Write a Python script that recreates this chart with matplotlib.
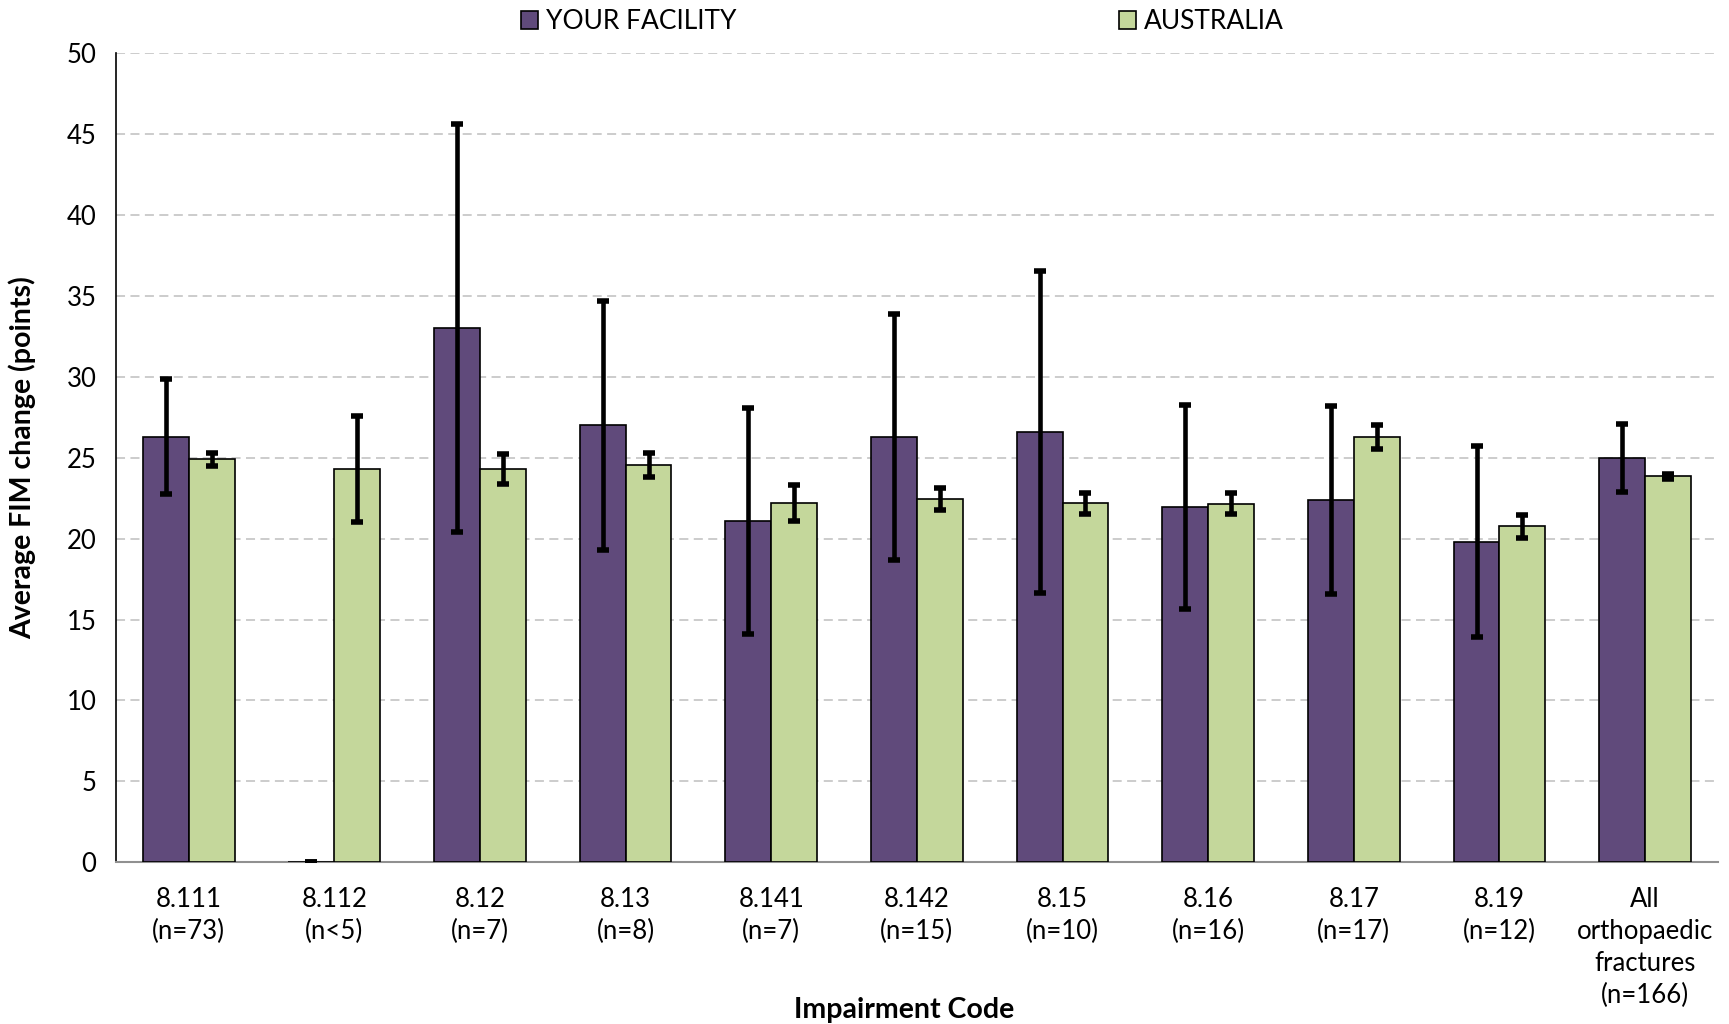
import matplotlib
matplotlib.use("Agg")
import matplotlib.pyplot as plt
import numpy as np

plt.rcParams['font.family'] = ['Lato', 'DejaVu Sans']

codes = ['8.111\n(n=73)', '8.112\n(n<5)', '8.12\n(n=7)', '8.13\n(n=8)', '8.141\n(n=7)',
         '8.142\n(n=15)', '8.15\n(n=10)', '8.16\n(n=16)', '8.17\n(n=17)', '8.19\n(n=12)',
         'All\northopaedic\nfractures\n(n=166)']
facility = [26.3, 0, 33.0, 27.0, 21.1, 26.3, 26.6, 21.95, 22.4, 19.8, 25.0]
facility_err = [3.55, 0, 12.6, 7.7, 7.0, 7.6, 9.95, 6.3, 5.8, 5.9, 2.1]
australia = [24.9, 24.3, 24.3, 24.55, 22.2, 22.45, 22.2, 22.15, 26.3, 20.75, 23.85]
australia_err = [0.4, 3.3, 0.95, 0.77, 1.1, 0.65, 0.65, 0.65, 0.75, 0.74, 0.15]

purple = '#604A7B'
green = '#C4D79B'

fig = plt.figure(figsize=(17.29, 10.24), dpi=100)
ax = fig.add_axes([0.067, 0.158, 0.9266, 0.79])

pos = np.arange(len(codes))
width = 0.315
err_kw = dict(ecolor='black', elinewidth=3.3, capsize=4.3, capthick=4.0)
ax.bar(pos - width/2, facility, width, color=purple, edgecolor='black', linewidth=1.2,
       yerr=facility_err, error_kw=err_kw, label='YOUR FACILITY', zorder=3)
ax.bar(pos + width/2, australia, width, color=green, edgecolor='black', linewidth=1.2,
       yerr=australia_err, error_kw=err_kw, label='AUSTRALIA', zorder=3)

ax.set_xlim(-0.5, len(codes) - 0.5)
ax.set_ylim(0, 50)
ax.set_yticks(range(0, 51, 5))
ax.set_xticks(pos)
ax.set_xticklabels(codes, fontsize=18.5, linespacing=1.35)
ax.tick_params(axis='y', labelsize=18.5, length=0, pad=14)
ax.tick_params(axis='x', length=0, pad=18)

ax.yaxis.grid(True, color='#C8C8C8', linestyle=(0, (5, 3)), linewidth=1.3, zorder=0)
ax.set_axisbelow(True)
for s in ['top', 'right']:
    ax.spines[s].set_visible(False)
ax.spines['left'].set_color('black')
ax.spines['left'].set_linewidth(1.2)
ax.spines['bottom'].set_color('#909090')
ax.spines['bottom'].set_linewidth(1.5)

ax.set_ylabel('Average FIM change (points)', fontsize=20.5, fontweight='bold', labelpad=22)
fig.text(0.523, 0.014, 'Impairment Code', fontsize=20.5, fontweight='bold', ha='center', va='center')

fig.legend(loc='center', bbox_to_anchor=(0.522, 0.979), ncol=2, frameon=False, fontsize=19,
           handlelength=0.65, handleheight=0.65, handletextpad=0.3, columnspacing=14.5)

fig.savefig('out.png', dpi=100)
